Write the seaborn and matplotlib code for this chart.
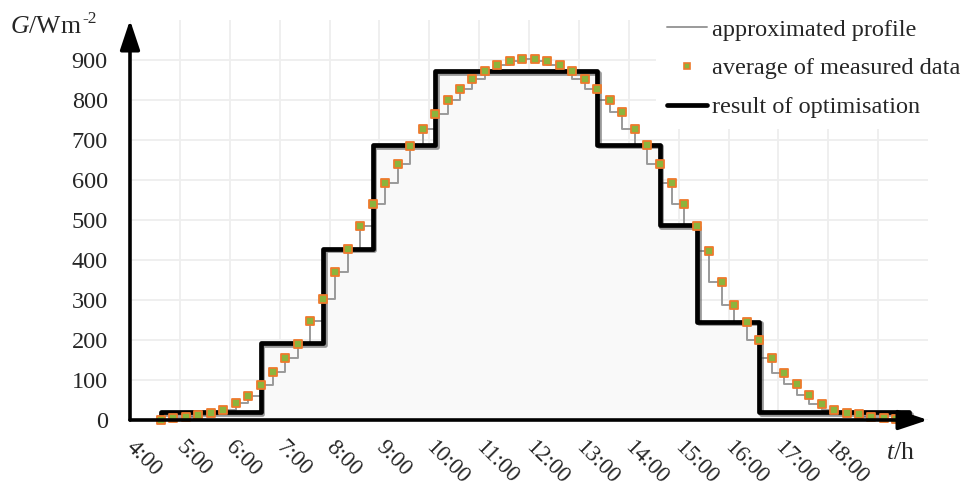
import numpy as np
import pandas as pd
import matplotlib
matplotlib.use("Agg")
import matplotlib.pyplot as plt
import matplotlib.patheffects as pe
from matplotlib.lines import Line2D
from matplotlib.transforms import ScaledTranslation
import seaborn as sns

# average of measured data, every 15 min starting 4:37 (W/m2)
measure_start = "4:37"
measure_step_min = 15
measured_avg = [0, 6, 8, 13, 18, 24, 42, 61, 88, 121, 155, 191, 247, 303, 369,
                427, 486, 539, 592, 641, 686, 727, 766, 799, 828, 852, 872, 887,
                897, 902, 902, 897, 887, 872, 852, 828, 799, 771, 727, 687, 641,
                592, 539, 485, 422, 346, 288, 244, 199, 156, 118, 89, 63, 41, 25,
                18, 14, 8, 5, 2, 0]

# result of optimisation: switching times and levels
opt_times = ["4:37", "6:37", "7:52", "8:52", "10:07", "13:22", "14:37", "15:22", "16:37", "19:37"]
opt_levels = [20, 192, 428, 687, 872, 688, 487, 246, 20]

hour_ticks = list(range(4, 20))
hour_labels = ["{}:00".format(h) for h in range(4, 19)] + [""]
g_ticks = list(range(0, 1000, 100))

FS = 17.5


def to_hours(s):
    h, m = s.split(":")
    return int(h) + int(m) / 60


sns.set_style("white")
plt.rcParams['font.family'] = ['Liberation Serif', 'DejaVu Serif']
plt.rcParams['mathtext.fontset'] = 'custom'
plt.rcParams['mathtext.rm'] = 'Liberation Serif'
plt.rcParams['mathtext.it'] = 'Liberation Serif:italic'

t0 = to_hours(measure_start)
t_meas = t0 + np.arange(len(measured_avg)) * measure_step_min / 60
measured = pd.DataFrame({"t": t_meas, "G": measured_avg})

# approximated profile: lower envelope between neighbouring samples
px, py = [t_meas[0]], [measured_avg[0]]
for i in range(len(measured_avg) - 1):
    lo = min(measured_avg[i], measured_avg[i + 1])
    px += [t_meas[i], t_meas[i + 1], t_meas[i + 1]]
    py += [lo, lo, measured_avg[i + 1]]
profile = pd.DataFrame({"t": px, "G": py})

# optimisation step line (closed to zero at both ends)
ot = [to_hours(s) for s in opt_times]
opt = pd.DataFrame({"t": [ot[0]] + ot + [ot[-1]],
                    "G": [0] + opt_levels + [opt_levels[-1], 0]})

fig = plt.figure(figsize=(9.63, 4.88), dpi=100)
ax = fig.add_axes([130 / 963, 68 / 488, 798 / 963, 400 / 488])
ax.set_xlim(4, 20)
ax.set_ylim(0, 1000)

ax.fill_between(opt["t"], opt["G"], step="post", color="#f9f9f9", zorder=1, lw=0)

sns.lineplot(data=profile, x="t", y="G", sort=False, estimator=None, ax=ax,
             color="#9a9a9a", lw=1.4, zorder=3)
sns.lineplot(data=opt, x="t", y="G", sort=False, estimator=None, ax=ax,
             color="black", lw=3.4, drawstyle="steps-post", zorder=4,
             path_effects=[pe.SimpleLineShadow(offset=(1.2, -1.2), shadow_color="#555555", alpha=0.6),
                           pe.Normal()])
sns.scatterplot(data=measured, x="t", y="G", ax=ax, marker="s", s=26,
                color="#8cb43c", edgecolor="#ee7a2c", linewidth=1.3, zorder=5, clip_on=False)

for s in ax.spines.values():
    s.set_visible(False)
ax.grid(True, color="#eeeeee", lw=1.3)
ax.set_axisbelow(True)
ax.set_xticks(hour_ticks)
ax.set_xticklabels(hour_labels, rotation=-45, ha="left", va="top", rotation_mode="anchor")
ax.set_yticks(g_ticks)
ax.tick_params(axis="both", length=0, labelsize=FS)
ax.tick_params(axis="x", pad=12, labelsize=16.5)
ax.tick_params(axis="y", pad=16)
ax.set_xlabel("")
ax.set_ylabel("")
shift = ScaledTranslation(7 / 100, 0, fig.dpi_scale_trans)
for lbl in ax.get_xticklabels():
    lbl.set_transform(lbl.get_transform() + shift)

arrow = dict(arrowstyle="-|>,head_length=0.9,head_width=0.3", lw=2.6, color="black",
             shrinkA=0, shrinkB=0, mutation_scale=20)
ax.annotate("", xy=(1.0, 0), xytext=(0, 0), xycoords="axes fraction", arrowprops=arrow,
            annotation_clip=False, zorder=6)
ax.annotate("", xy=(0, 1.0), xytext=(0, 0), xycoords="axes fraction", arrowprops=arrow,
            annotation_clip=False, zorder=6)

# axis titles
ylab = fig.text(10 / 963, 1 - 27 / 488, "$G$/Wm", fontsize=FS + 1, ha="left", va="center")
fig.canvas.draw()
bb = ylab.get_window_extent()
fig.text((bb.x1 + 1) / 963, 1 - 19 / 488, "-2", fontsize=FS - 5, ha="left", va="center")
fig.text(886 / 963, 1 - 453 / 488, "$t$/h", fontsize=FS + 1, ha="left", va="center")

handles = [
    Line2D([], [], color="#9a9a9a", lw=1.4),
    Line2D([], [], ls="", marker="s", markersize=4.6, markerfacecolor="#8cb43c",
           markeredgecolor="#ee7a2c", markeredgewidth=1.2),
    Line2D([], [], color="black", lw=3.4),
]
labels = ["approximated profile", "average of measured data", "result of optimisation"]
leg = fig.legend(handles, labels, loc="upper left", bbox_to_anchor=(656 / 963, 1 - 8 / 488),
                 frameon=True, facecolor="white", edgecolor="none", framealpha=1,
                 fancybox=False, fontsize=FS, handlelength=1.65, handletextpad=0.2,
                 labelspacing=0.68, borderpad=0.45, borderaxespad=0)

fig.savefig("out.png", dpi=100)
